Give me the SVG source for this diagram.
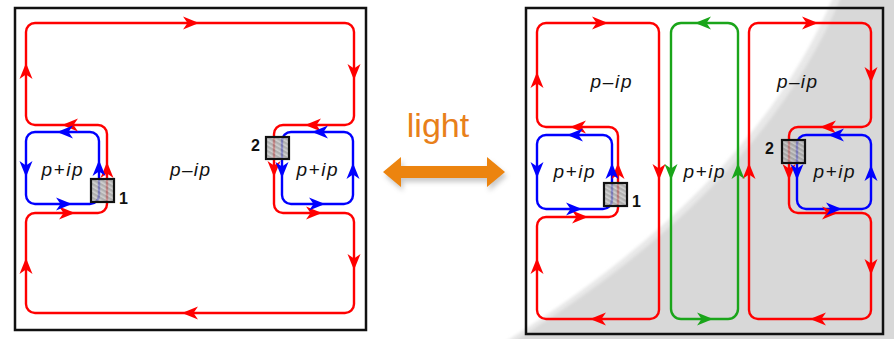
<svg xmlns="http://www.w3.org/2000/svg" xmlns:xlink="http://www.w3.org/1999/xlink" width="894" height="339" viewBox="0 0 894 339">
<style>
.frame{fill:none;stroke:#111;stroke-width:2.5}
.red{fill:none;stroke:#f00;stroke-width:2.4}
.blue{fill:none;stroke:#00f;stroke-width:2.4}
.green{fill:none;stroke:#1aa51a;stroke-width:2.4}
.ar{fill:#f00}.ab{fill:#00f}.ag{fill:#1aa51a}
.qpc{fill:url(#hatch);fill-opacity:0.78;stroke:#111;stroke-width:2.2}
.lbl{font-family:"Liberation Sans",Arial,sans-serif;font-size:19px;font-style:italic;fill:#111;text-anchor:middle}
.num{font-family:"Liberation Sans",Arial,sans-serif;font-size:16px;font-weight:bold;fill:#111}
</style>
<defs>
<path id="ah" d="M0,0 L-16,-6.5 L-11.5,0 L-16,6.5 Z"/>
<pattern id="hatch" patternUnits="userSpaceOnUse" width="4" height="4" patternTransform="rotate(-60)">
<rect width="4" height="4" fill="#9a9a9a"/>
<rect width="1.6" height="4" fill="#c4c4c4"/>
</pattern>
<filter id="soft" x="-10%" y="-10%" width="120%" height="120%"><feGaussianBlur stdDeviation="1.5"/></filter>
<filter id="shadow" x="-20%" y="-50%" width="140%" height="200%"><feGaussianBlur stdDeviation="2.5"/></filter>
</defs>
<rect width="894" height="339" fill="#fff"/>

<!-- background shading of right panel -->
<g id="shading">
<path d="M834,-5 Q755,187 500,345 L900,345 L900,-5 Z" fill="#e8e8e8" filter="url(#soft)"/>
<path d="M842,-5 Q762,190 508,345 L900,345 L900,-5 Z" fill="#d8d8d8" filter="url(#soft)"/>
</g>

<g id="panel-left">
<rect class="frame" x="15" y="8" width="351" height="322"/>
</g>
<g id="panel-right">
<rect class="frame" x="526" y="8" width="357" height="326"/>
</g>

<g id="connectors">
<path class="red" d="M35,23 H345 A9,9 0 0 1 354,32 V116 A9,9 0 0 1 345,125 H283 A9,9 0 0 0 274,134 V204 A9,9 0 0 0 283,213 H345 A9,9 0 0 1 354,222 V304 A9,9 0 0 1 345,313 H35 A9,9 0 0 1 26,304 V222 A9,9 0 0 1 35,213 H98 A9,9 0 0 0 107,204 V134 A9,9 0 0 0 98,125 H35 A9,9 0 0 1 26,116 V32 A9,9 0 0 1 35,23 Z"/>
<rect class="blue" x="26" y="132" width="73" height="72" rx="9"/>
<rect class="blue" x="282" y="132" width="71" height="72" rx="9"/>
<path class="red" d="M546,23 H650 A9,9 0 0 1 659,32 V310 A9,9 0 0 1 650,319 H546 A9,9 0 0 1 537,310 V226 A9,9 0 0 1 546,217 H609 A9,9 0 0 0 618,208 V136 A9,9 0 0 0 609,127 H546 A9,9 0 0 1 537,118 V32 A9,9 0 0 1 546,23 Z"/>
<rect class="blue" x="537" y="135" width="75" height="74" rx="9"/>
<rect class="green" x="671" y="23" width="67" height="296" rx="10"/>
<path class="red" d="M758,23 H862 A9,9 0 0 1 871,32 V118 A9,9 0 0 1 862,127 H798 A9,9 0 0 0 789,136 V204 A9,9 0 0 0 798,213 H862 A9,9 0 0 1 871,222 V310 A9,9 0 0 1 862,319 H758 A9,9 0 0 1 749,310 V32 A9,9 0 0 1 758,23 Z"/>
<rect class="blue" x="797" y="135" width="74" height="74" rx="9"/>

<use xlink:href="#ah" class="ar" transform="translate(199,23)"/>
<use xlink:href="#ah" class="ar" transform="translate(354,80) rotate(90)"/>
<use xlink:href="#ah" class="ar" transform="translate(305,125) rotate(180)"/>
<use xlink:href="#ah" class="ar" transform="translate(274,177) rotate(90)"/>
<use xlink:href="#ah" class="ar" transform="translate(322,213)"/>
<use xlink:href="#ah" class="ar" transform="translate(354,270) rotate(90)"/>
<use xlink:href="#ah" class="ar" transform="translate(182,313) rotate(180)"/>
<use xlink:href="#ah" class="ar" transform="translate(26,258) rotate(-90)"/>
<use xlink:href="#ah" class="ar" transform="translate(75,213)"/>
<use xlink:href="#ah" class="ar" transform="translate(107,162) rotate(-90)"/>
<use xlink:href="#ah" class="ar" transform="translate(62,125) rotate(180)"/>
<use xlink:href="#ah" class="ar" transform="translate(26,63) rotate(-90)"/>
<use xlink:href="#ah" class="ab" transform="translate(312,132) rotate(180)"/>
<use xlink:href="#ah" class="ab" transform="translate(282,178) rotate(90)"/>
<use xlink:href="#ah" class="ab" transform="translate(325,204)"/>
<use xlink:href="#ah" class="ab" transform="translate(353,163) rotate(-90)"/>
<use xlink:href="#ah" class="ab" transform="translate(57,132) rotate(180)"/>
<use xlink:href="#ah" class="ab" transform="translate(26,177) rotate(90)"/>
<use xlink:href="#ah" class="ab" transform="translate(72,204)"/>
<use xlink:href="#ah" class="ab" transform="translate(99,160) rotate(-90)"/>
<use xlink:href="#ah" class="ar" transform="translate(608,23)"/>
<use xlink:href="#ah" class="ar" transform="translate(537,72) rotate(-90)"/>
<use xlink:href="#ah" class="ar" transform="translate(570,127) rotate(180)"/>
<use xlink:href="#ah" class="ar" transform="translate(618,163) rotate(-90)"/>
<use xlink:href="#ah" class="ar" transform="translate(588,217)"/>
<use xlink:href="#ah" class="ar" transform="translate(537,258) rotate(-90)"/>
<use xlink:href="#ah" class="ar" transform="translate(590,319) rotate(180)"/>
<use xlink:href="#ah" class="ar" transform="translate(659,180) rotate(90)"/>
<use xlink:href="#ah" class="ar" transform="translate(818,23)"/>
<use xlink:href="#ah" class="ar" transform="translate(871,83) rotate(90)"/>
<use xlink:href="#ah" class="ar" transform="translate(820,127) rotate(180)"/>
<use xlink:href="#ah" class="ar" transform="translate(789,180) rotate(90)"/>
<use xlink:href="#ah" class="ar" transform="translate(838,213)"/>
<use xlink:href="#ah" class="ar" transform="translate(871,275) rotate(90)"/>
<use xlink:href="#ah" class="ar" transform="translate(810,319) rotate(180)"/>
<use xlink:href="#ah" class="ar" transform="translate(749,163) rotate(-90)"/>
<use xlink:href="#ah" class="ab" transform="translate(567,135) rotate(180)"/>
<use xlink:href="#ah" class="ab" transform="translate(537,178) rotate(90)"/>
<use xlink:href="#ah" class="ab" transform="translate(612,163) rotate(-90)"/>
<use xlink:href="#ah" class="ab" transform="translate(582,209)"/>
<use xlink:href="#ah" class="ab" transform="translate(828,135) rotate(180)"/>
<use xlink:href="#ah" class="ab" transform="translate(797,180) rotate(90)"/>
<use xlink:href="#ah" class="ab" transform="translate(871,165) rotate(-90)"/>
<use xlink:href="#ah" class="ab" transform="translate(842,209)"/>
<use xlink:href="#ah" class="ag" transform="translate(671,180) rotate(90)"/>
<use xlink:href="#ah" class="ag" transform="translate(695,23) rotate(180)"/>
<use xlink:href="#ah" class="ag" transform="translate(738,163) rotate(-90)"/>
<use xlink:href="#ah" class="ag" transform="translate(713,319)"/>
</g>

<g id="box1-left"><rect class="qpc" x="91" y="179" width="23" height="23"/><text class="num" x="119" y="204">1</text></g>
<g id="box2-left"><rect class="qpc" x="266" y="137" width="23" height="22"/><text class="num" x="251" y="151">2</text></g>
<g id="box1-right"><rect class="qpc" x="604" y="183" width="23" height="23"/><text class="num" x="632" y="207">1</text></g>
<g id="box2-right"><rect class="qpc" x="782" y="140" width="23" height="23"/><text class="num" x="765" y="154">2</text></g>

<g id="labels">
<text class="lbl" x="62" y="176" textLength="41" lengthAdjust="spacing">p+ip</text>
<text class="lbl" x="190" y="176" textLength="40" lengthAdjust="spacing">p–ip</text>
<text class="lbl" x="317" y="176" textLength="41" lengthAdjust="spacing">p+ip</text>
<text class="lbl" x="611" y="88" textLength="41" lengthAdjust="spacing">p–ip</text>
<text class="lbl" x="574" y="178" textLength="41" lengthAdjust="spacing">p+ip</text>
<text class="lbl" x="704" y="178" textLength="41" lengthAdjust="spacing">p+ip</text>
<text class="lbl" x="797" y="88" textLength="40" lengthAdjust="spacing">p–ip</text>
<text class="lbl" x="834" y="178" textLength="41" lengthAdjust="spacing">p+ip</text>
</g>

<g id="light">
<path d="M383,172 L401,157 L401,166 L487,166 L487,157 L505,172 L487,187 L487,178 L401,178 L401,187 Z" fill="#888" opacity="0.45" transform="translate(2,4)" filter="url(#shadow)"/>
<path d="M383,172 L401,157 L401,166 L487,166 L487,157 L505,172 L487,187 L487,178 L401,178 L401,187 Z" fill="#ec840f"/>
<text x="438" y="137" font-family="'Liberation Sans',Arial,sans-serif" font-size="34" fill="#e8801a" text-anchor="middle">light</text>
</g>
</svg>
